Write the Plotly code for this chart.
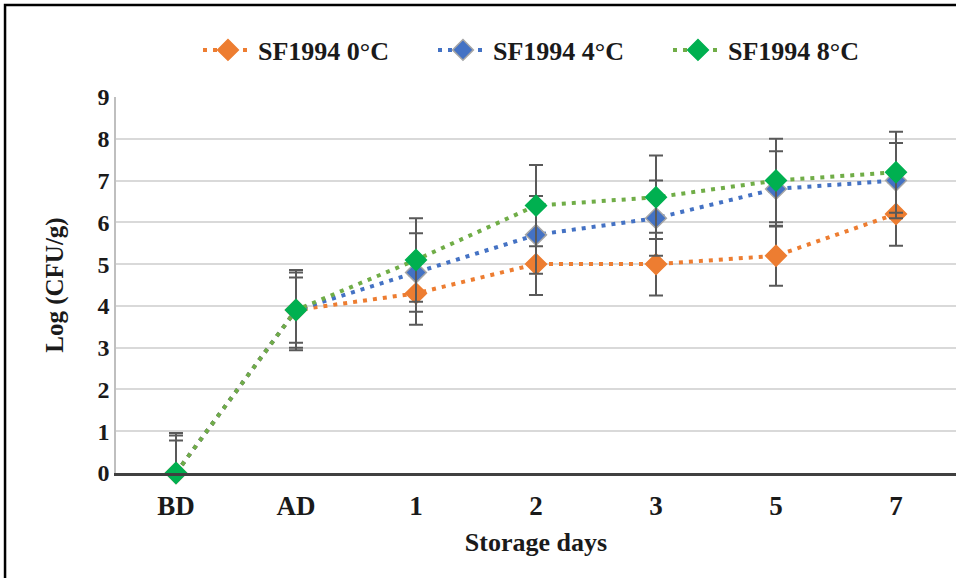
import plotly.graph_objects as go

categories = ["BD", "AD", "1", "2", "3", "5", "7"]
series_names = ["SF1994 0°C", "SF1994 4°C", "SF1994 8°C"]
vals_0 = [0, 3.9, 4.3, 5.0, 5.0, 5.2, 6.2]
vals_4 = [0, 3.9, 4.8, 5.7, 6.1, 6.8, 7.0]
vals_8 = [0, 3.9, 5.1, 6.4, 6.6, 7.0, 7.2]
err_0 = [0.78, 0.78, 0.75, 0.74, 0.75, 0.72, 0.76]
err_4 = [0.9, 0.9, 0.94, 0.93, 0.9, 0.9, 0.9]
err_8 = [0.96, 0.96, 1.0, 0.97, 1.0, 1.0, 0.97]

line_colors = ["#ED7D31", "#4472C4", "#70AD47"]
marker_colors = ["#ED7D31", "#4472C4", "#00B050"]
marker_lines = ["#ED7D31", "#A5A5A5", "#00B050"]

FONT = "Liberation Serif"
fig = go.Figure()
for name, v, e, lc, mc, ml in zip(series_names, [vals_0, vals_4, vals_8],
                                  [err_0, err_4, err_8], line_colors,
                                  marker_colors, marker_lines):
    fig.add_trace(go.Scatter(
        x=categories, y=v, name=name, mode="lines+markers",
        line=dict(color=lc, width=4, dash="4px,6px"),
        marker=dict(symbol="diamond", size=16, color=mc,
                    line=dict(color=ml, width=1.5)),
        error_y=dict(type="data", array=e,
                     arrayminus=[min(a, b) for a, b in zip(e, v)],
                     color="#595959", thickness=2, width=7),
        cliponaxis=False,
    ))

fig.update_layout(
    width=956, height=578,
    margin=dict(l=116, r=0, t=97, b=105),
    paper_bgcolor="white", plot_bgcolor="white",
    font=dict(family=FONT, size=24, color="#1a1a1a"),
    legend=dict(orientation="h", x=0.0976, xanchor="left",
                y=1.125, yanchor="middle",
                font=dict(family=FONT, size=26, color="#1a1a1a", weight="bold"),
                itemwidth=50, entrywidth=170, entrywidthmode="pixels",
                traceorder="normal"),
    xaxis=dict(type="category", range=[-0.5, 6.5], showgrid=False,
               showline=True, linecolor="#404040", linewidth=2.5, ticks="",
               ticklabelstandoff=7,
               tickfont=dict(family=FONT, size=27, weight="bold"),
               title=dict(text="Storage days",
                          font=dict(family=FONT, size=26, weight="bold"),
                          standoff=13)),
    yaxis=dict(range=[0, 9], dtick=1, showgrid=True, gridcolor="#D9D9D9",
               gridwidth=1.5, showline=True, linecolor="#BFBFBF", linewidth=1.5,
               zeroline=False, ticks="",
               tickfont=dict(family=FONT, size=24, weight="bold"),
               title=dict(text="Log (CFU/g)",
                          font=dict(family=FONT, size=25, weight="bold"),
                          standoff=27)),
    shapes=[dict(type="rect", xref="paper", yref="paper",
                 x0=-0.1321, x1=1.2, y0=-0.5, y1=1.2447,
                 line=dict(color="black", width=2.5), layer="above")],
)

fig.write_html("out.html")
